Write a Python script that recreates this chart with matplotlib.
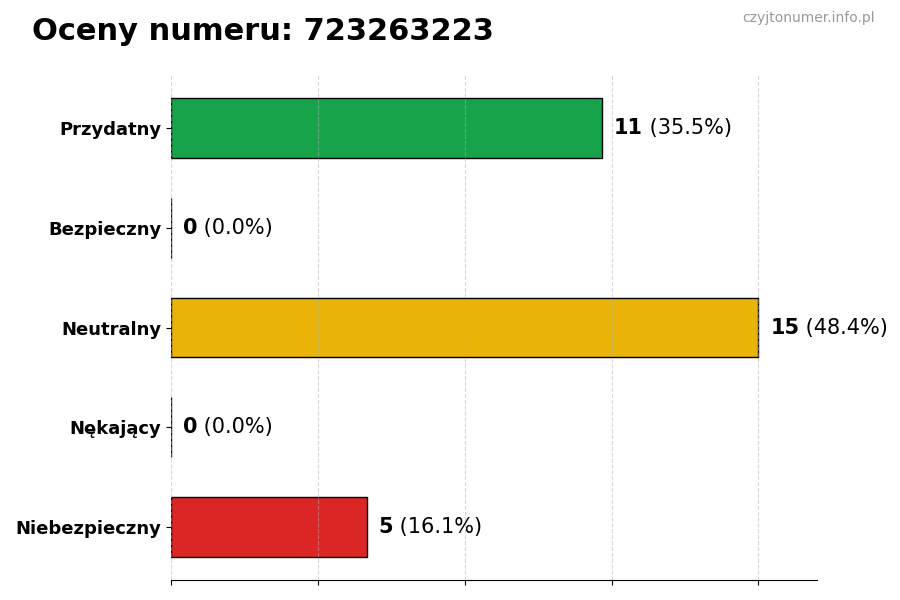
import matplotlib
matplotlib.use('Agg')
from matplotlib import pyplot as plt
import numpy as np

# data
categories = ['Przydatny', 'Bezpieczny', 'Neutralny', 'Nękający', 'Niebezpieczny']
counts = [11, 0, 15, 0, 5]
colors = ['#16a34a', '#2563eb', '#eab308', '#f97316', '#dc2626']
phone = '723263223'

total = sum(counts)
max_count = max(counts)

fig = plt.figure(figsize=(9, 6), dpi=100)
ax = fig.add_axes([0.19, 0.0333, 0.718, 0.8417])

# top category first
y = np.arange(len(categories))[::-1]
ax.barh(y, counts, height=0.6, color=colors, edgecolor='black', linewidth=1)

ax.set_yticks(y)
ax.set_yticklabels(categories, fontsize=13, fontweight='bold')
ax.set_xlim(0, max_count * 1.1)
ax.set_xticks(np.linspace(0, max_count, 5))
ax.set_xticklabels([])

# value labels: bold count, then percentage
for yi, c in zip(y, counts):
    pct = c / total * 100
    t = ax.text(c + max_count * 0.02, yi, str(c), va='center', ha='left',
                fontsize=15, fontweight='bold')
    ax.annotate(' (%.1f%%)' % pct, xy=(1, 0.5), xycoords=t, va='center', ha='left',
                fontsize=15)

ax.grid(axis='x', linestyle='--', alpha=0.5)
for side in ['top', 'right', 'left']:
    ax.spines[side].set_visible(False)

fig.text(0.035, 0.947, 'Oceny numeru: ' + phone, fontsize=22, fontweight='bold',
         va='center', ha='left')
fig.text(0.972, 0.97, 'czyjtonumer.info.pl', fontsize=10, color='#999999',
         va='center', ha='right')

plt.savefig('out.png', dpi=100)
